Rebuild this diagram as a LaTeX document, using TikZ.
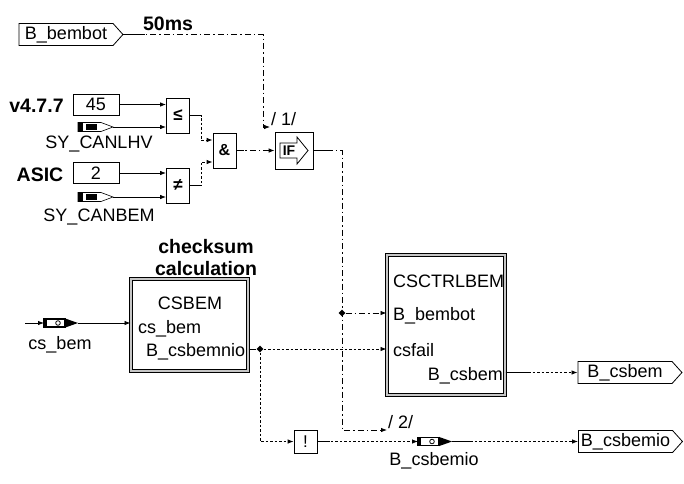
\documentclass[tikz,border=0pt]{standalone}
\usepackage{fontspec}
\setmainfont{Liberation Sans}
\usetikzlibrary{arrows.meta,shapes.geometric,shapes.symbols,calc}
\tikzset{
 srcicon/.pic={
   \draw[line width=0.6pt] (0,-4.5) -- (23,-4.5) -- (35,0) -- (23,4.5) -- (0,4.5) -- cycle;
   \draw[line width=1.2pt] (0,-4.5) -- (23,-4.5) (0,4.5) -- (23,4.5);
   \fill (0,-5) rectangle (5,5);
   \fill (8,-3.2) rectangle (19,3.2);
   \coordinate (-tip) at (35,0);
 },
 inicon/.pic={
   \draw[line width=1.3pt] (0,-4) rectangle (21,4);
   \fill (0,-4.6) rectangle (3,4.6);
   \draw[line width=0.8pt] (14,0) circle (2.3pt);
   \fill (21,-4.6) -- (34,0) -- (21,4.6) -- cycle;
   \coordinate (-w) at (0,0);
   \coordinate (-tip) at (34,0);
 }
}
\begin{document}
\begin{tikzpicture}[x=1pt,y=-1pt,
  every node/.style={inner sep=0pt, font=\fontsize{18}{20}\selectfont},
  lbl/.style={font=\fontsize{19.5}{22}\selectfont\bfseries},
  opbox/.style={draw, line width=0.8pt, minimum width=23pt, minimum height=35pt},
  valbox/.style={draw, line width=0.8pt, minimum width=46pt, minimum height=21pt},
  sigbox/.style={draw, line width=0.8pt, shape=signal, signal to=east, signal pointer angle=96, minimum width=104pt, minimum height=22pt},
  bigbox/.style={draw=black, line width=1pt, double=gray!45, double distance=1.5pt},
  junc/.style={diamond, fill, minimum size=7pt},
  con/.style={line width=0.8pt},
  arr/.style={-{Latex[length=6pt,width=4.5pt]}},
  dd/.style={dash pattern=on 6pt off 3pt on 1.5pt off 3pt},
  dt/.style={dash pattern=on 2.5pt off 2pt},
  opsym/.style={font=\bfseries\fontsize{17}{17}\selectfont},
]
\useasboundingbox (0,0) rectangle (684,483);

% inputs and labels
\node[sigbox] (bembot) at (66,34.5) {B\_bembot};
\node[lbl, anchor=base] (t50) at (168,30) {50ms};
\node[lbl, anchor=base] (tv) at (36.5,112) {v4.7.7};
\node[valbox] (n45) at (96,104.5) {45};
\pic (lhv) at (78,127) {srcicon};
\node[anchor=base] (llhv) at (99,148) {SY\_CANLHV};
\node[lbl, anchor=base] (tasic) at (40,181) {ASIC};
\node[valbox] (n2) at (96,173) {2};
\pic (cbem) at (78,197) {srcicon};
\node[anchor=base] (lcbem) at (99,221) {SY\_CANBEM};

% operators
\node[opbox, opsym] (le) at (178,115.5) {≤};
\node[opbox, opsym] (ne) at (178,185.5) {≠};
\node[opbox, font=\bfseries\fontsize{16}{16}\selectfont] (and) at (224.5,150.5) {\&};
\node[draw, line width=0.8pt, minimum width=38pt, minimum height=37pt] (ifb) at (294,150.5) {};
\draw[line width=0.8pt] (280,143) -- (297,143) -- (297,137) -- (308,150.5) -- (297,164) -- (297,158) -- (280,158) -- cycle;
\node[font=\bfseries\fontsize{14}{14}\selectfont] (iftxt) at (289,150.5) {IF};

\coordinate (t1) at (270,127);
\node[anchor=base west] (lab1) at (271,125) {/ 1/};
\coordinate (t2) at (387,430);
\node[anchor=base west] (lab2) at (388,428) {/ 2/};

% CSBEM block
\node[lbl, anchor=base] (tcs1) at (206,253) {checksum};
\node[lbl, anchor=base] (tcs2) at (206,275) {calculation};
\node[bigbox, minimum width=117pt, minimum height=92pt] (csb) at (189.5,325) {};
\node[anchor=base] (csbt) at (190,309) {CSBEM};
\node[anchor=base west] (csbi) at (138,333) {cs\_bem};
\node[anchor=base west] (csbo) at (146,356) {B\_csbemnio};

\coordinate (csin) at (25,323);
\pic (csi) at (44,323) {inicon};
\node[anchor=base] (lcsi) at (60,349) {cs\_bem};

% CSCTRLBEM block
\node[bigbox, minimum width=118pt, minimum height=140pt] (ctrl) at (446,325) {};
\node[anchor=base west] (ctrlt) at (393,287) {CSCTRLBEM};
\node[anchor=base west] (ctrli1) at (393,320) {B\_bembot};
\node[anchor=base west] (ctrli2) at (393,356) {csfail};
\node[anchor=base east] (ctrlo) at (503,380) {B\_csbem};

\node[junc] (j1) at (342,313) {};
\node[junc] (j2) at (260,349) {};

\node[draw, line width=0.8pt, minimum size=23pt, font=\fontsize{17}{17}\selectfont] (notb) at (305.5,441.5) {!};
\pic (bio) at (418,441.5) {inicon};
\node[anchor=base] (lbio) at (434,465) {B\_csbemio};

\node[sigbox] (ocs) at (625,372.5) {B\_csbem};
\node[sigbox] (ocsio) at (625.5,441.5) {B\_csbemio};

% connectors
\draw[con,dd,arr] (bembot.east) -- ++(140,0) |- (t1);
\draw[con] (bembot.east) -- ++(22,0);

\draw[con,arr] (n45.east) -- (n45.east -| le.west);
\draw[con,arr] (lhv-tip) -- (lhv-tip -| le.west);
\draw[con,arr] (n2.east) -- (n2.east -| ne.west);
\draw[con,arr] (cbem-tip) -- (cbem-tip -| ne.west);

\draw[con,dt,arr] (le.east) -- ++(11,0) |- ($(and.west)+(0,-10.5)$);
\draw[con] (le.east) -- ++(10,0);
\draw[con,dt,arr] (ne.east) -- ++(11,0) |- ($(and.west)+(0,11.5)$);
\draw[con] (ne.east) -- ++(10,0);

\draw[con,dd,arr] (and.east) -- (ifb.west);
\draw[con] (and.east) -- ++(8,0);

\draw[con,dd,arr] (ifb.east) -- ++(29,0) |- (t2);
\draw[con] (ifb.east) -- ++(19,0);
\draw[con,dd,arr] (j1) -- (j1 -| ctrl.west);

\draw[con,arr] (csin) -- (csi-w);
\draw[con,arr] (csi-tip) -- (csi-tip -| csb.west);

\draw[con] (csb.east |- j2) -- (j2);
\draw[con,dt,arr] (j2) -- (j2 -| ctrl.west);
\draw[con,dt,arr] (j2) |- (notb.west);

\draw[con,dt,arr] (notb.east) -- (bio-w);
\draw[con] (notb.east) -- ++(13,0);
\draw[con,dt,arr] (bio-tip) -- (ocsio.west);
\draw[con] (bio-tip) -- ++(18,0);

\draw[con,dt,arr] (ctrl.east |- ocs.west) -- (ocs.west);
\draw[con] (ctrl.east |- ocs.west) -- ++(25,0);
\end{tikzpicture}
\end{document}
